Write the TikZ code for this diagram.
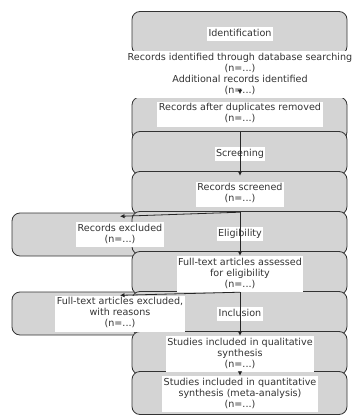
\documentclass[tikz,border=0pt]{standalone}
\usepackage{fontspec}
\setmainfont{DejaVu Sans}
\usetikzlibrary{arrows.meta}

\newcommand{\wbox}[1]{{\setlength{\fboxsep}{1.5pt}\colorbox{white}{\begin{tabular}{@{}c@{}}#1\end{tabular}}}}

\begin{document}
\begin{tikzpicture}[
  x=1pt, y=-1pt,
  stage/.style = {draw=black!80, line width=0.8pt, fill=black!17, rounded corners=8pt, minimum width=215pt, minimum height=43pt, inner sep=0pt},
  txt/.style   = {inner sep=0pt, minimum height=36pt, text=black!80, font=\fontsize{9.6pt}{11pt}\selectfont},
  arr/.style   = {-{Latex[length=4.5pt,width=4.5pt]}, draw=black!85, line width=0.8pt}
]
  \useasboundingbox (0,0) rectangle (351,415);

  \node[stage] (bx5) at (119.5,234.5) {};
  \node[stage] (bx7) at (119.5,313.5) {};
  \node[stage] (b0)  at (239.5,33) {};
  \node[stage] (b2)  at (239.5,118.5) {};
  \foreach \k in {3,...,9}
    \node[stage] (b\k) at (239.5,{33+40*\k}) {};

  \node[txt] (t0)  at (240,34)    {\wbox{Identification}};
  \node[txt] (t1)  at (240,74.5)  {\wbox{Records identified through database searching\\(n=...)\\Additional records identified\\(n=...)}};
  \node[txt] (t2)  at (240,114)   {\wbox{Records after duplicates removed\\(n=...)}};
  \node[txt] (t3)  at (240,154)   {\wbox{Screening}};
  \node[txt] (t4)  at (240,194)   {\wbox{Records screened\\(n=...)}};
  \node[txt] (t5)  at (240,234)   {\wbox{Eligibility}};
  \node[txt] (tx5) at (120,234.5) {\wbox{Records excluded\\(n=...)}};
  \node[txt] (t6)  at (240,274)   {\wbox{Full-text articles assessed\\for eligibility\\(n=...)}};
  \node[txt] (t7)  at (240,314)   {\wbox{Inclusion}};
  \node[txt] (tx7) at (120,313.5) {\wbox{Full-text articles excluded,\\with reasons\\(n=...)}};
  \node[txt] (t8)  at (240,354)   {\wbox{Studies included in qualitative\\synthesis\\(n=...)}};
  \node[txt] (t9)  at (240,394)   {\wbox{Studies included in quantitative\\synthesis (meta-analysis)\\(n=...)}};

  \draw[arr] ([yshift=9pt]t1.south) -- ([yshift=4pt]t1.south);
  \draw[arr] (t2.south) -- (t4.north);
  \draw[arr] (t4.south) -- (t6.north);
  \draw[arr] (t6.south) -- (t8.north);
  \draw[arr] (t8.south) -- (t9.north);
  \draw[arr] (t4.south) -- (tx5.north);
  \draw[arr] (t6.south) -- (tx7.north);
\end{tikzpicture}
\end{document}
